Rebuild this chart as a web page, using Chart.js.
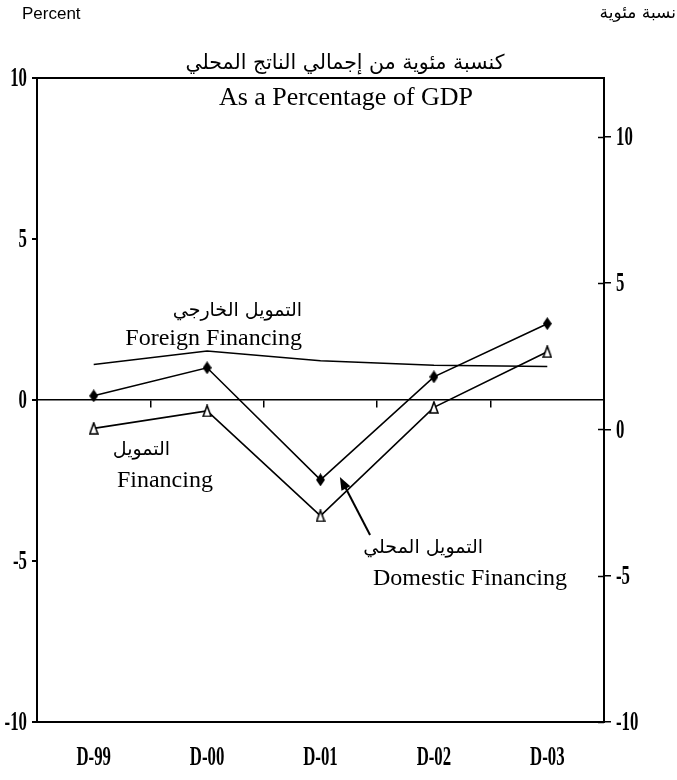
<!DOCTYPE html>
<html>
<head>
<meta charset="utf-8">
<script src="https://cdn.jsdelivr.net/npm/chart.js@4/dist/chart.umd.min.js"></script>
<style>
  html, body { margin: 0; padding: 0; background: #fff; }
</style>
</head>
<body>
<canvas id="financingChart" width="677" height="780"></canvas>
<script>
// Chart values
const categories = ['D-99', 'D-00', 'D-01', 'D-02', 'D-03'];
const foreignFinancing = [1.1, 1.52, 1.22, 1.08, 1.04];
const domesticFinancing = [0.13, 1.0, -2.48, 0.72, 2.37];
const totalFinancing = [-0.88, -0.34, -3.6, -0.23, 1.5];
const leftTicks = [-10, -5, 0, 5, 10];
const rightTicks = [-10, -5, 0, 5, 10];
const rightRange = [-10, 12];

const serif = '"Liberation Serif", "Times New Roman", serif';
const arabic = '"DejaVu Sans", sans-serif';

// elongated marker shapes like the original
function diamondMarker() {
    const c = document.createElement('canvas');
    c.width = 9; c.height = 13;
    const g = c.getContext('2d');
    g.fillStyle = '#000';
    g.beginPath();
    g.moveTo(4.5, 0); g.lineTo(9, 6.5); g.lineTo(4.5, 13); g.lineTo(0, 6.5);
    g.closePath(); g.fill();
    return c;
}
function triangleMarker() {
    const c = document.createElement('canvas');
    c.width = 10; c.height = 13;
    const g = c.getContext('2d');
    g.fillStyle = '#fff'; g.strokeStyle = '#000'; g.lineWidth = 1.6;
    g.beginPath();
    g.moveTo(5, 1); g.lineTo(9, 12); g.lineTo(1, 12);
    g.closePath(); g.fill(); g.stroke();
    return c;
}

function drawText(ctx, s, x, y, font, align, base, sx) {
    ctx.save();
    ctx.font = font;
    ctx.fillStyle = '#000';
    ctx.textAlign = align;
    ctx.textBaseline = base;
    ctx.translate(x, y);
    ctx.scale(sx || 1, 1);
    ctx.fillText(s, 0, 0);
    ctx.restore();
}

const decor = {
    id: 'decor',
    afterDraw(chart) {
        const ctx = chart.ctx;
        const area = chart.chartArea;
        const x = chart.scales.x, y = chart.scales.y, y2 = chart.scales.y2;

        // top border of the box
        ctx.save();
        ctx.strokeStyle = '#000';
        ctx.lineWidth = 2;
        ctx.beginPath();
        ctx.moveTo(area.left - 5, area.top);
        ctx.lineTo(area.right + 1, area.top);
        ctx.stroke();
        // right axis ticks cross the axis
        ctx.lineWidth = 1.5;
        rightTicks.forEach(v => {
            const py = Math.round(y2.getPixelForValue(v)) + 0.5;
            ctx.beginPath();
            ctx.moveTo(area.right - 6, py);
            ctx.lineTo(area.right, py);
            ctx.stroke();
        });
        ctx.restore();

        // condensed bold tick labels
        const tickFont = 'bold 28px ' + serif;
        leftTicks.forEach(v => {
            drawText(ctx, String(v), area.left - 10, y.getPixelForValue(v) + 1, tickFont, 'right', 'middle', 0.6);
        });
        rightTicks.forEach(v => {
            drawText(ctx, String(v), area.right + 12, y2.getPixelForValue(v) + 1, tickFont, 'left', 'middle', 0.6);
        });
        categories.forEach((c, i) => {
            drawText(ctx, c, x.getPixelForValue(i), 758, tickFont, 'center', 'middle', 0.6);
        });

        // corner captions and title
        drawText(ctx, 'Percent', 22, 14, '17px "Liberation Sans", Arial, sans-serif', 'left', 'middle');
        drawText(ctx, 'نسبة مئوية', 676, 14, '17px ' + arabic, 'right', 'middle');
        drawText(ctx, 'كنسبة مئوية من إجمالي الناتج المحلي', 345, 64, '20.5px ' + arabic, 'center', 'middle');
        drawText(ctx, 'As a Percentage of GDP', 346, 105, '26px ' + serif, 'center', 'alphabetic');

        // series labels, anchored on the data scales
        const px = i => x.getPixelForValue(i);
        const py = v => y.getPixelForValue(v);
        const labelFont = '24px ' + serif;
        const arFont = '19px ' + arabic;
        drawText(ctx, 'التمويل الخارجي', px(1.837), py(2.76), arFont, 'right', 'middle');
        drawText(ctx, 'Foreign Financing', px(1.837), py(1.71), labelFont, 'right', 'alphabetic');
        drawText(ctx, 'التمويل', px(0.673), py(-1.55), arFont, 'right', 'middle');
        drawText(ctx, 'Financing', px(0.205), py(-2.70), labelFont, 'left', 'alphabetic');
        drawText(ctx, 'التمويل المحلي', px(3.433), py(-4.60), arFont, 'right', 'middle');
        drawText(ctx, 'Domestic Financing', px(2.463), py(-5.75), labelFont, 'left', 'alphabetic');

        // arrow pointing at the domestic line
        const ax0 = px(2.437), ay0 = py(-4.19), ax1 = px(2.171), ay1 = py(-2.39);
        const ang = Math.atan2(ay1 - ay0, ax1 - ax0);
        ctx.save();
        ctx.strokeStyle = '#000'; ctx.fillStyle = '#000'; ctx.lineWidth = 2;
        ctx.beginPath();
        ctx.moveTo(ax0, ay0);
        ctx.lineTo(ax1 - 8 * Math.cos(ang), ay1 - 8 * Math.sin(ang));
        ctx.stroke();
        ctx.beginPath();
        ctx.moveTo(ax1, ay1);
        ctx.lineTo(ax1 - 13 * Math.cos(ang) + 5 * Math.sin(ang), ay1 - 13 * Math.sin(ang) - 5 * Math.cos(ang));
        ctx.lineTo(ax1 - 13 * Math.cos(ang) - 5 * Math.sin(ang), ay1 - 13 * Math.sin(ang) + 5 * Math.cos(ang));
        ctx.closePath();
        ctx.fill();
        ctx.restore();
    }
};

const ctx = document.getElementById('financingChart').getContext('2d');
const chart = new Chart(ctx, {
    type: 'line',
    data: {
        labels: categories,
        datasets: [
            {
                label: 'Foreign Financing',
                data: foreignFinancing,
                borderColor: '#000',
                borderWidth: 1.6,
                pointRadius: 0,
                tension: 0
            },
            {
                label: 'Domestic Financing',
                data: domesticFinancing,
                borderColor: '#000',
                borderWidth: 1.6,
                pointStyle: diamondMarker(),
                pointRadius: 5,
                tension: 0
            },
            {
                label: 'Financing',
                data: totalFinancing,
                borderColor: '#000',
                borderWidth: 1.6,
                pointStyle: triangleMarker(),
                pointRadius: 5,
                tension: 0
            }
        ]
    },
    options: {
        responsive: false,
        animation: false,
        devicePixelRatio: 1,
        layout: { padding: { top: 78, left: 0, right: 0, bottom: 0 } },
        plugins: {
            legend: { display: false },
            tooltip: { enabled: false }
        },
        scales: {
            x: {
                type: 'category',
                offset: true,
                position: 'bottom',
                grid: { display: false },
                border: { display: true, color: '#000', width: 2 },
                ticks: { display: false },
                afterFit(scale) { scale.height = 58; }
            },
            xZero: {
                type: 'category',
                axis: 'x',
                labels: categories,
                offset: true,
                position: { y: 0 },
                grid: { offset: true, drawOnChartArea: false, tickLength: 7, color: '#000', lineWidth: 1.5 },
                border: { display: true, color: '#000', width: 1.5 },
                ticks: { display: false }
            },
            y: {
                position: 'left',
                min: -10,
                max: 10,
                ticks: { display: false, stepSize: 5 },
                grid: { drawOnChartArea: false, tickLength: 5, color: '#000', lineWidth: 2 },
                border: { display: true, color: '#000', width: 2 },
                afterFit(scale) { scale.width = 37; }
            },
            y2: {
                display: true,
                position: 'right',
                min: rightRange[0],
                max: rightRange[1],
                ticks: { display: false, stepSize: 5, includeBounds: false },
                grid: { drawOnChartArea: false, tickLength: 7, color: '#000', lineWidth: 1.5 },
                border: { display: true, color: '#000', width: 2 },
                afterFit(scale) { scale.width = 73; }
            }
        }
    },
    plugins: [decor]
});
</script>
</body>
</html>
